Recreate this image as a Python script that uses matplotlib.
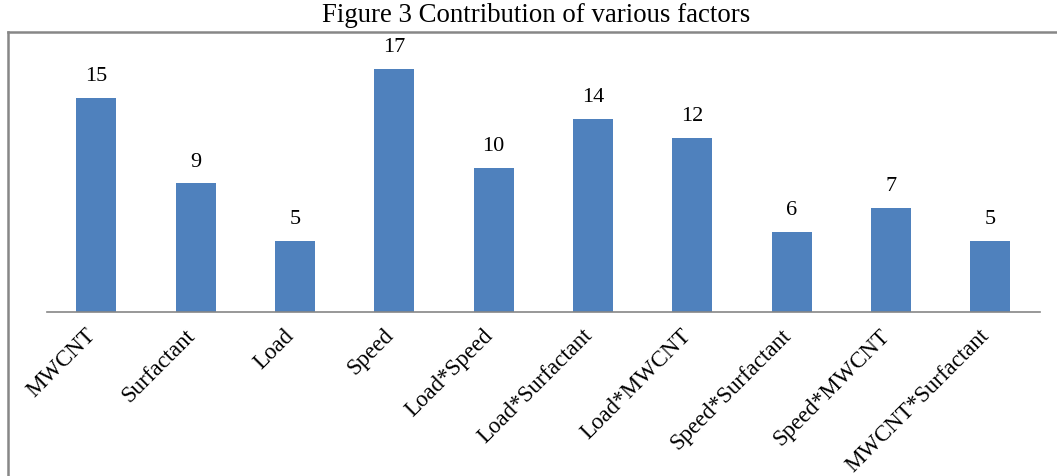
import matplotlib.pyplot as plt
from matplotlib.lines import Line2D
from matplotlib.transforms import ScaledTranslation

factors = ['MWCNT', 'Surfactant', 'Load', 'Speed', 'Load*Speed',
           'Load*Surfactant', 'Load*MWCNT', 'Speed*Surfactant',
           'Speed*MWCNT', 'MWCNT*Surfactant']
contribution = [15.0, 9.0, 5.0, 17.0, 10.1, 13.5, 12.2, 5.6, 7.3, 5.0]

plt.rcParams['font.family'] = ['Liberation Serif', 'DejaVu Serif']

W, H = 1057, 477
fig = plt.figure(figsize=(W / 100, H / 100), dpi=100)
ax = fig.add_axes([46.7 / W, 1 - 313 / H, (1040 - 46.7) / W, 286 / H])

bars = ax.bar(range(len(factors)), contribution, width=0.4, color='#4F81BD')
ax.bar_label(bars, fmt='%.0f', padding=9, fontsize=16)

ax.set_xlim(-0.5, len(factors) - 0.5)
ax.set_ylim(0, 20)
ax.set_yticks([])
ax.set_xticks(range(len(factors)))
ax.set_xticklabels(factors, rotation=45, ha='right', va='center',
                   rotation_mode='anchor', fontsize=16.5)
ax.tick_params(axis='x', length=0, pad=14)
shift = ScaledTranslation(-4 / 100, 0, fig.dpi_scale_trans)
for lbl in ax.get_xticklabels():
    lbl.set_transform(lbl.get_transform() + shift)
for side in ['top', 'right', 'left']:
    ax.spines[side].set_visible(False)
ax.spines['bottom'].set_color('#868686')
ax.spines['bottom'].set_linewidth(1.2)

# chart border (only top and left visible in the crop)
fig.add_artist(Line2D([8 / W, 8 / W], [0, 1 - 33 / H], color='#878787', lw=1.8))
fig.add_artist(Line2D([8 / W, 1], [1 - 33 / H, 1 - 33 / H], color='#878787', lw=1.8))

fig.text(536 / W, 1 - 16 / H, 'Figure 3 Contribution of various factors',
         ha='center', va='center', fontsize=19.3)

fig.savefig('out.png', dpi=100)
